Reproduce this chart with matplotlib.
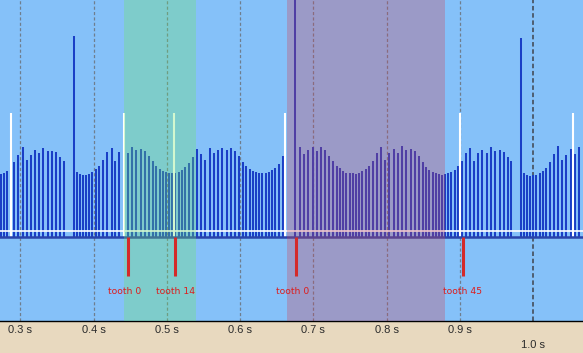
import matplotlib.pyplot as plt
import numpy as np

# crank timer runs at this many counts per second
TIMER_HZ = 14900

# time of the first visible tooth (s)
first_tooth_s = 0.27340

# tooth periods in timer counts (time since previous tooth), one list per wheel turn
# the first value of rev1..rev3 is the long period across the missing teeth
rev0_counts = [63, 64, 66, 70, 75, 82, 90, 77, 82, 87, 84, 89, 86, 86, 85, 80, 76]
rev1_counts = [201,
               65, 63, 62, 62, 63, 65, 68, 71, 77, 85,
               89, 76, 85, 86, 84, 90, 87, 88, 86, 81,
               76, 71, 68, 66, 65, 64, 64, 64, 65, 67,
               70, 74, 80, 88, 83, 77, 89, 84, 87, 89,
               87, 89, 86, 81, 75, 71, 68, 66, 65, 64,
               64, 64, 65, 67, 69, 73, 81]
rev2_counts = [250,
               90, 83, 87, 90, 86, 90, 87, 81, 76, 71,
               69, 66, 64, 64, 64, 63, 64, 66, 68, 71,
               76, 84, 90, 77, 84, 88, 84, 91, 87, 88,
               86, 81, 75, 70, 67, 65, 64, 63, 62, 63,
               64, 65, 67, 71, 76, 84, 89, 76, 84, 87,
               84, 90, 86, 87, 85, 80, 76]
rev3_counts = [199,
               64, 62, 61, 62, 62, 64, 66, 69, 75, 83,
               91, 77, 82, 88, 83, 90]

# event markers
sync_mark_s = [0.2872, 0.4415, 0.5097, 0.6617, 0.8998, 1.0545]
sync_mark_counts = 124
tooth_mark_s = [0.4465, 0.5115, 0.6762, 0.9039]
tooth_mark_num = [0, 14, 0, 45]

# highlighted windows
green_window = (0.4411, 0.5391)
purple_window = (0.6634, 0.8792)

tick_s = [0.3, 0.4, 0.5, 0.6, 0.7, 0.8, 0.9, 1.0]

periods = np.array(rev0_counts + rev1_counts + rev2_counts + rev3_counts, dtype=float)
times = first_tooth_s + np.concatenate([[0], np.cumsum(periods[1:])]) / TIMER_HZ

fig = plt.figure(figsize=(5.83, 3.53), dpi=100, facecolor='#e8d9bf')
ax = fig.add_axes([0, 32 / 353, 1, 321 / 353])
ax.set_facecolor('#85c1f9')

# dashed time grid
for t in tick_s:
    if t < 0.95:
        ax.axvline(t, color='#6f7e8e', lw=0.9, dashes=(2.5, 1.8), zorder=1)
    else:
        ax.axvline(t, color='#4a5666', lw=1.3, dashes=(2.5, 1.5), zorder=1)

# tooth period bars
ax.vlines(times, 0, periods, colors='#1a3fc6', lw=1.45, zorder=3)

# sync lines and reference lines
ax.vlines(sync_mark_s, 0, sync_mark_counts, colors='white', lw=1.5, zorder=4)
ax.axhline(6.5, color='white', lw=1.2, zorder=4)
ax.axhline(0, color='#2a44aa', lw=1.8, zorder=4)

# windows
ax.axvspan(*green_window, color='#70e663', alpha=0.3, lw=0, zorder=5)
ax.axvspan(*purple_window, color='#ce4256', alpha=0.3, lw=0, zorder=5)

# tooth markers
ax.vlines(tooth_mark_s, -39, 0, colors='#d42a2a', lw=2.2, zorder=6)
for t, n in zip(tooth_mark_s, tooth_mark_num):
    ax.annotate(f'tooth {n}', (t, -54), xytext=(-2.5 if n < 10 else 0, 0),
                textcoords='offset points', ha='center', va='center',
                fontsize=6.7, color='#dd1c1c', zorder=7)

# time labels, 1.0 s sits on a second row
for t in tick_s:
    dy = -17 if t > 0.95 else -6.8
    ax.annotate(f'{t:.1f} s', xy=(t, 0), xycoords=('data', 'axes fraction'),
                xytext=(0, dy), textcoords='offset points', ha='center', va='center',
                fontsize=8, family='Liberation Sans', color='#2b2b2b',
                annotation_clip=False)

ax.set_xlim(0.272147, 1.068160)
ax.set_ylim(-84, 237)
ax.set_xticks([])
ax.set_yticks([])
for side in ['top', 'left', 'right']:
    ax.spines[side].set_visible(False)
ax.spines['bottom'].set_color('black')
ax.spines['bottom'].set_linewidth(1.0)

fig.savefig('out.png', dpi=100)
